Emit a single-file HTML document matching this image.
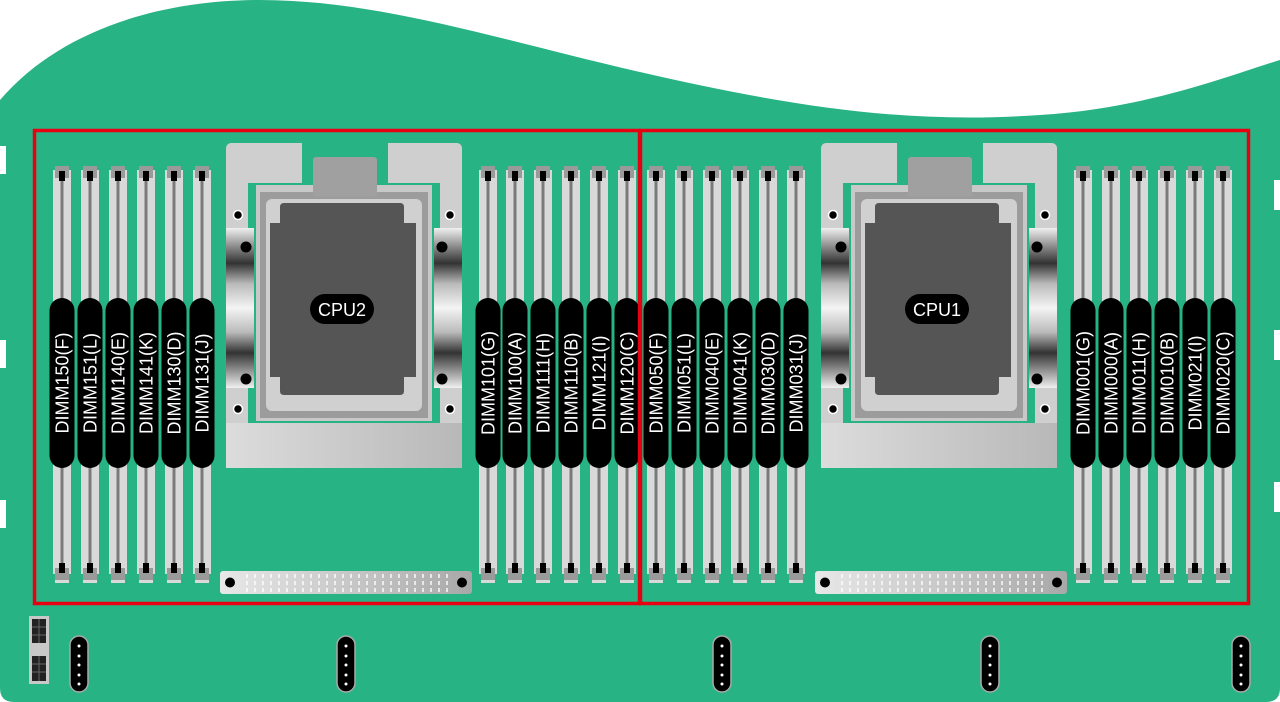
<!DOCTYPE html>
<html><head><meta charset="utf-8"><style>
html,body{margin:0;padding:0;background:#fff;width:1280px;height:702px;overflow:hidden}
svg{display:block}
text{font-family:"Liberation Sans",sans-serif;fill:#fff}
</style></head><body>
<svg width="1280" height="702" viewBox="0 0 1280 702" xmlns="http://www.w3.org/2000/svg">
<defs>
<linearGradient id="metal" x1="0" y1="0" x2="0" y2="1">
<stop offset="0" stop-color="#f0f0f0"/><stop offset="0.12" stop-color="#888"/><stop offset="0.22" stop-color="#333"/><stop offset="0.35" stop-color="#bbb"/><stop offset="0.5" stop-color="#f4f4f4"/><stop offset="0.65" stop-color="#bbb"/><stop offset="0.78" stop-color="#333"/><stop offset="0.88" stop-color="#888"/><stop offset="1" stop-color="#f0f0f0"/>
</linearGradient>
<linearGradient id="plate" x1="0" y1="0" x2="1" y2="0">
<stop offset="0" stop-color="#dcdcdc"/><stop offset="1" stop-color="#b8b8b8"/>
</linearGradient>
<linearGradient id="bar" x1="0" y1="0" x2="1" y2="0">
<stop offset="0" stop-color="#e8e8e8"/><stop offset="1" stop-color="#a8a8a8"/>
</linearGradient>
<pattern id="pins" x="0" y="0" width="8" height="24" patternUnits="userSpaceOnUse">
<rect x="2" y="3" width="2" height="4" fill="#fff" opacity="0.7"/>
<rect x="2" y="10" width="2" height="4" fill="#fff" opacity="0.7"/>
<rect x="2" y="17" width="2" height="4" fill="#fff" opacity="0.7"/>
</pattern>
<g id="slot">
<rect x="-9" y="170" width="18" height="404" fill="#d9d9d9"/>
<rect x="-1.5" y="180" width="3" height="384" fill="#7a7a7a"/>
<rect x="-7" y="166" width="14" height="12" fill="#9a9a9a"/>
<rect x="-3" y="171" width="6" height="10" fill="#000"/>
<rect x="-7" y="568" width="14" height="12" fill="#9a9a9a"/>
<rect x="-3" y="563" width="6" height="10" fill="#000"/>
<rect x="-7" y="580" width="14" height="3" fill="#d9d9d9"/>
</g>
<g id="pill"><rect x="-12.5" y="298" width="25" height="170" rx="12.5" fill="#000"/></g>
<g id="cpu">
<rect x="0" y="0" width="236" height="325" rx="6" fill="#cfcfcf"/>
<rect x="76" y="0" width="86" height="40" fill="#28b385"/>
<rect x="22" y="40" width="192" height="240" fill="#28b385"/>
<path d="M0,6 Q0,0 6,0 L76,0 L76,14 L58,32 L22,32 L22,280 L0,280 Z" fill="#cfcfcf"/>
<path d="M162,0 L230,0 Q236,0 236,6 L236,280 L214,280 L214,32 L178,32 L162,14 Z" fill="#cfcfcf"/>
<rect x="30" y="42" width="176" height="236" fill="#c8c8c8"/>
<rect x="34" y="49" width="168" height="226" fill="#9c9c9c"/>
<rect x="40" y="56" width="156" height="212" rx="6" fill="#d0d0d0"/>
<rect x="87" y="14" width="64" height="40" rx="3" fill="#a0a0a0"/>
<path d="M54,80 L54,64 Q54,60 58,60 L174,60 Q178,60 178,64 L178,80 L190,80 L190,234 L178,234 L178,248 Q178,252 174,252 L58,252 Q54,252 54,248 L54,234 L44,234 L44,80 Z" fill="#555"/>
<rect x="0" y="85" width="28" height="160" fill="url(#metal)"/>
<rect x="208" y="85" width="28" height="160" fill="url(#metal)"/>
<rect x="0" y="280" width="236" height="45" fill="url(#plate)"/>
<circle cx="12" cy="72" r="4.5" fill="#000" stroke="#fff" stroke-width="1.5"/>
<circle cx="20" cy="104" r="5.5" fill="#000"/>
<circle cx="20" cy="236" r="5.5" fill="#000"/>
<circle cx="12" cy="266" r="4.5" fill="#000" stroke="#fff" stroke-width="1.5"/>
<circle cx="224" cy="72" r="4.5" fill="#000" stroke="#fff" stroke-width="1.5"/>
<circle cx="216" cy="104" r="5.5" fill="#000"/>
<circle cx="216" cy="236" r="5.5" fill="#000"/>
<circle cx="224" cy="266" r="4.5" fill="#000" stroke="#fff" stroke-width="1.5"/>
<rect x="84" y="151" width="64" height="30" rx="15" fill="#000"/>
</g>
<g id="conn">
<rect x="0" y="0" width="252" height="23" rx="3" fill="url(#bar)"/>
<rect x="22" y="0" width="208" height="23" fill="url(#pins)"/>
<circle cx="10" cy="11.5" r="5" fill="#000"/>
<circle cx="242" cy="11.5" r="5" fill="#000"/>
</g>
<g id="port">
<rect x="-9" y="636" width="18" height="56" rx="9" fill="#000" stroke="#aaa" stroke-width="1.5"/>
<circle cx="0" cy="646" r="1.5" fill="#fff"/><circle cx="0" cy="656" r="1.5" fill="#fff"/><circle cx="0" cy="665" r="1.5" fill="#fff"/><circle cx="0" cy="675" r="1.5" fill="#fff"/><circle cx="0" cy="684" r="1.5" fill="#fff"/>
</g>
</defs>

<path d="M0,100 C60,30 160,0 260,0 C380,0 500,40 640,72 C780,104 900,125 1040,115 C1150,108 1230,75 1280,60 L1280,688 Q1280,702 1266,702 L14,702 Q0,702 0,688 Z" fill="#28b385"/>
<rect x="0" y="146" width="6" height="28" fill="#fff"/>
<rect x="0" y="340" width="6" height="28" fill="#fff"/>
<rect x="0" y="500" width="6" height="28" fill="#fff"/>
<rect x="1274" y="180" width="6" height="30" fill="#fff"/>
<rect x="1274" y="330" width="6" height="30" fill="#fff"/>
<rect x="1274" y="482" width="6" height="30" fill="#fff"/>

<use href="#slot" x="62"/><use href="#slot" x="90"/><use href="#slot" x="118"/><use href="#slot" x="146"/><use href="#slot" x="174"/><use href="#slot" x="202"/>
<use href="#slot" x="488"/><use href="#slot" x="515"/><use href="#slot" x="543"/><use href="#slot" x="571"/><use href="#slot" x="599"/><use href="#slot" x="627"/>
<use href="#slot" x="656"/><use href="#slot" x="684"/><use href="#slot" x="712"/><use href="#slot" x="740"/><use href="#slot" x="768"/><use href="#slot" x="796"/>
<use href="#slot" x="1083"/><use href="#slot" x="1111"/><use href="#slot" x="1139"/><use href="#slot" x="1167"/><use href="#slot" x="1195"/><use href="#slot" x="1223"/>

<use href="#pill" x="62"/><use href="#pill" x="90"/><use href="#pill" x="118"/><use href="#pill" x="146"/><use href="#pill" x="174"/><use href="#pill" x="202"/>
<use href="#pill" x="488"/><use href="#pill" x="515"/><use href="#pill" x="543"/><use href="#pill" x="571"/><use href="#pill" x="599"/><use href="#pill" x="627"/>
<use href="#pill" x="656"/><use href="#pill" x="684"/><use href="#pill" x="712"/><use href="#pill" x="740"/><use href="#pill" x="768"/><use href="#pill" x="796"/>
<use href="#pill" x="1083"/><use href="#pill" x="1111"/><use href="#pill" x="1139"/><use href="#pill" x="1167"/><use href="#pill" x="1195"/><use href="#pill" x="1223"/>

<g font-size="18" text-anchor="middle">
<text transform="translate(68.5,383) rotate(-90)">DIMM150(F)</text>
<text transform="translate(96.5,383) rotate(-90)">DIMM151(L)</text>
<text transform="translate(124.5,383) rotate(-90)">DIMM140(E)</text>
<text transform="translate(152.5,383) rotate(-90)">DIMM141(K)</text>
<text transform="translate(180.5,383) rotate(-90)">DIMM130(D)</text>
<text transform="translate(208.5,383) rotate(-90)">DIMM131(J)</text>
<text transform="translate(494.5,383) rotate(-90)">DIMM101(G)</text>
<text transform="translate(521.5,383) rotate(-90)">DIMM100(A)</text>
<text transform="translate(549.5,383) rotate(-90)">DIMM111(H)</text>
<text transform="translate(577.5,383) rotate(-90)">DIMM110(B)</text>
<text transform="translate(605.5,383) rotate(-90)">DIMM121(I)</text>
<text transform="translate(633.5,383) rotate(-90)">DIMM120(C)</text>
<text transform="translate(662.5,383) rotate(-90)">DIMM050(F)</text>
<text transform="translate(690.5,383) rotate(-90)">DIMM051(L)</text>
<text transform="translate(718.5,383) rotate(-90)">DIMM040(E)</text>
<text transform="translate(746.5,383) rotate(-90)">DIMM041(K)</text>
<text transform="translate(774.5,383) rotate(-90)">DIMM030(D)</text>
<text transform="translate(802.5,383) rotate(-90)">DIMM031(J)</text>
<text transform="translate(1089.5,383) rotate(-90)">DIMM001(G)</text>
<text transform="translate(1117.5,383) rotate(-90)">DIMM000(A)</text>
<text transform="translate(1145.5,383) rotate(-90)">DIMM011(H)</text>
<text transform="translate(1173.5,383) rotate(-90)">DIMM010(B)</text>
<text transform="translate(1201.5,383) rotate(-90)">DIMM021(I)</text>
<text transform="translate(1229.5,383) rotate(-90)">DIMM020(C)</text>
</g>

<use href="#cpu" x="226" y="143"/>
<use href="#cpu" x="821" y="143"/>
<text x="342" y="316" font-size="18" text-anchor="middle">CPU2</text>
<text x="937" y="316" font-size="18" text-anchor="middle">CPU1</text>

<use href="#conn" x="220" y="571"/>
<use href="#conn" x="815" y="571"/>

<rect x="34.5" y="130.5" width="605" height="473" fill="none" stroke="#e60012" stroke-width="3.5"/>
<rect x="640.5" y="130.5" width="608" height="473" fill="none" stroke="#e60012" stroke-width="3.5"/>

<rect x="29" y="616" width="20" height="68" fill="#c8c8c8"/>
<rect x="32" y="619" width="14" height="24" fill="#222"/>
<rect x="32" y="656" width="14" height="25" fill="#222"/>
<path d="M39,619 V643 M32,627 H46 M32,635 H46 M39,656 V681 M32,664 H46 M32,672 H46" stroke="#666" stroke-width="1"/>

<use href="#port" x="79"/>
<use href="#port" x="346"/>
<use href="#port" x="722"/>
<use href="#port" x="990"/>
<use href="#port" x="1241"/>
</svg>
</body></html>
